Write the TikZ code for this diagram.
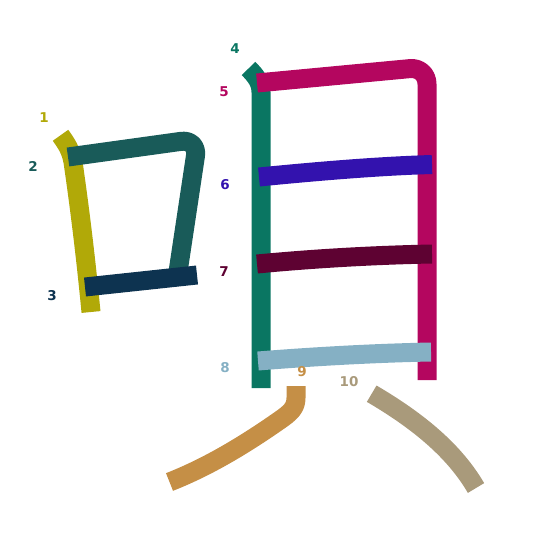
\documentclass[tikz,border=0pt]{standalone}
\usepackage{fontspec}
\setmainfont{DejaVu Sans}
\definecolor{cA}{RGB}{177,169,8}
\definecolor{cB}{RGB}{25,91,89}
\definecolor{cC}{RGB}{13,51,80}
\definecolor{cD}{RGB}{10,118,98}
\definecolor{cE}{RGB}{180,6,95}
\definecolor{cF}{RGB}{51,18,174}
\definecolor{cG}{RGB}{94,2,50}
\definecolor{cH}{RGB}{133,176,196}
\definecolor{cI}{RGB}{197,143,70}
\definecolor{cJ}{RGB}{169,154,123}
\tikzset{
  stroke/.style={line width=19pt, line cap=butt, line join=round},
  num/.style={font=\bfseries\fontsize{13.5}{13.5}\selectfont, inner sep=0pt}
}
\begin{document}
\begin{tikzpicture}[x=1pt,y=-1pt]
\useasboundingbox (0,0) rectangle (545,545);
% stroke 1
\draw[stroke, cA] (60.5,135.3) .. controls (66,143) and (71,150) .. (73,162) .. controls (80,210) and (86,260) .. (91,312);
% stroke 2
\draw[stroke, cB, rounded corners=17pt] (68,157) -- (198,139) -- (178,272);
% stroke 3
\draw[stroke, cC] (85,287) -- (197,275);
% stroke 4
\draw[stroke, cD] (261,388) -- (261,92) .. controls (261,82) and (255,75) .. (248.5,68.5);
% stroke 5
\draw[stroke, cE, rounded corners=17pt] (257,83) -- (427,67) -- (427,380);
% stroke 6
\draw[stroke, cF] (259,177) .. controls (320,171) and (380,166) .. (432,164.5);
% stroke 7
\draw[stroke, cG] (257,264) .. controls (320,258) and (380,255) .. (432,254);
% stroke 8
\draw[stroke, cH] (258,361) .. controls (320,356) and (380,353) .. (431,352);
% stroke 9
\draw[stroke, cI] (296,386) -- (296,398) .. controls (296,408) and (290,413) .. (280,420) .. controls (240,448) and (205,468) .. (169.5,482);
% stroke 10
\draw[stroke, cJ] (371.7,393.7) .. controls (420,422) and (455,452) .. (476,488);
% numbers
\node[num, text=cA] (n1) at (44,118) {1};
\node[num, text=cB] (n2) at (33,166) {2};
\node[num, text=cC] (n3) at (52,296) {3};
\node[num, text=cD] (n4) at (235,49) {4};
\node[num, text=cE] (n5) at (224,92) {5};
\node[num, text=cF] (n6) at (225,185) {6};
\node[num, text=cG] (n7) at (224,272) {7};
\node[num, text=cH] (n8) at (225,368) {8};
\node[num, text=cI] (n9) at (302,372) {9};
\node[num, text=cJ] (n10) at (349,382) {10};
\end{tikzpicture}
\end{document}
